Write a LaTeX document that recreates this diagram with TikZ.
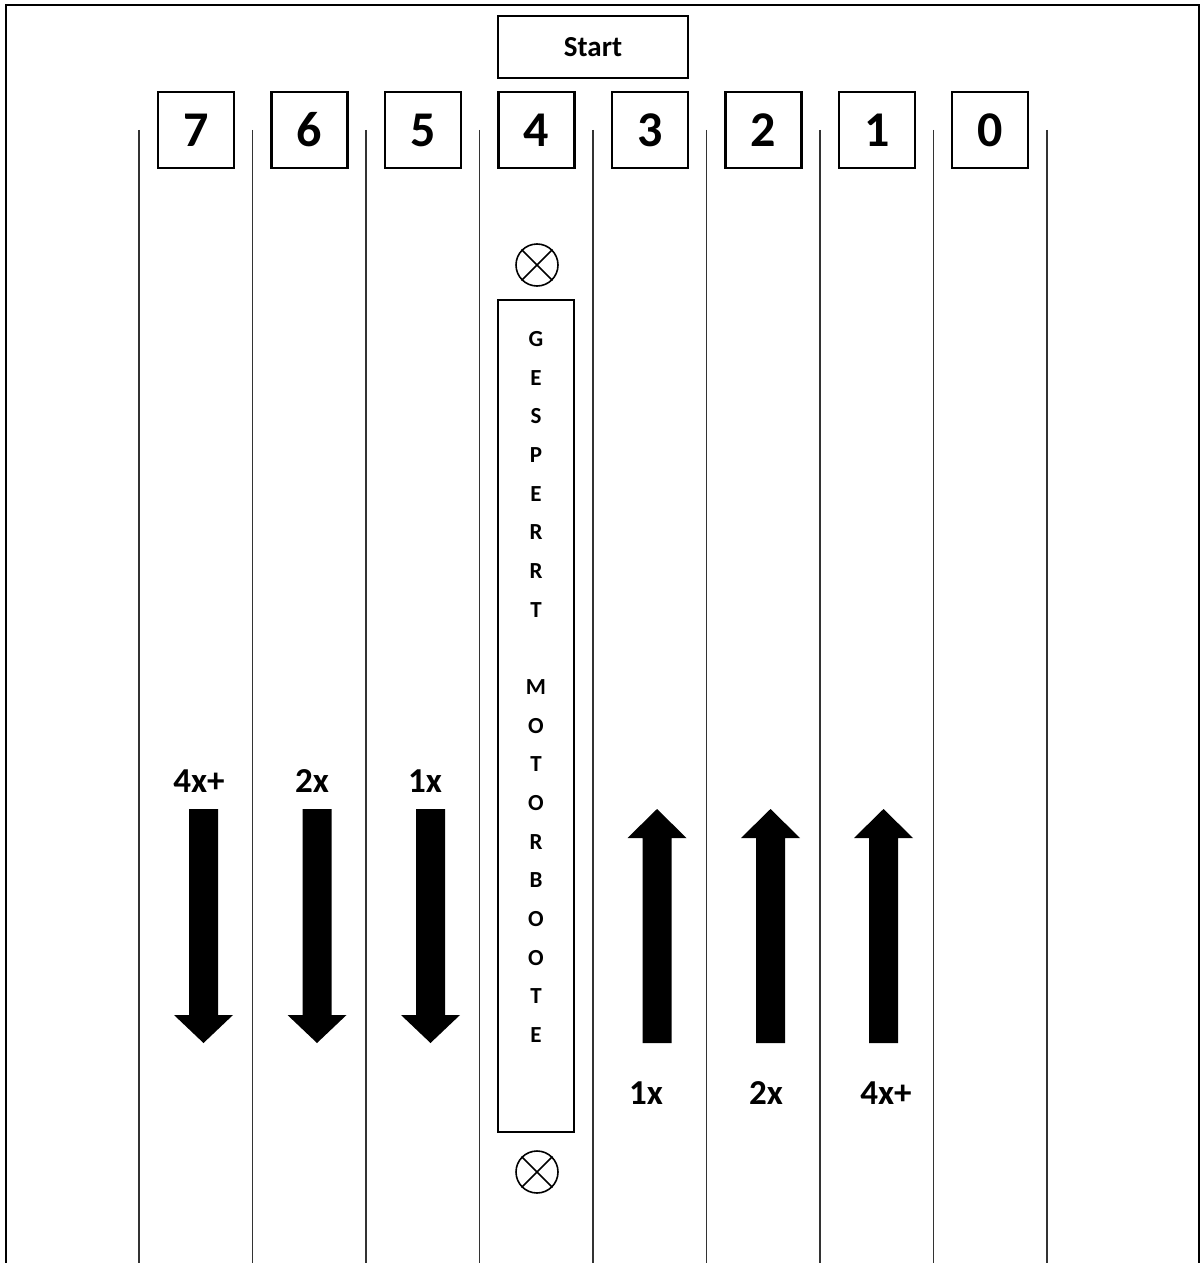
\documentclass[tikz,border=0pt]{standalone}
\usepackage{fontspec}
\setmainfont{Carlito}
\begin{document}
\begin{tikzpicture}[x=0.5pt,y=-0.5pt,
  numbox/.style={draw,line width=1.1pt,minimum width=38pt,minimum height=38pt,inner sep=0pt,font=\bfseries\fontsize{25}{25}\selectfont},
  startbox/.style={draw,line width=1.1pt,minimum width=95pt,minimum height=31pt,inner sep=0pt,font=\bfseries\fontsize{14.5}{15}\selectfont},
  lane/.style={line width=0.6pt,draw=black!80},
  lbl/.style={font=\bfseries\fontsize{17.5}{17.5}\selectfont,inner sep=0pt},
  letter/.style={font=\bfseries\fontsize{11.5}{11.5}\selectfont,inner sep=0pt},
  bigarrow/.style={fill=black,draw=none},
  xmark/.style={line width=0.8pt}]
\useasboundingbox (0,0) rectangle (1200,1263);
% frame
\draw[line width=1.3pt] (6,1280) -- (6,5) -- (1199,5) -- (1199,1280);
% lanes
\foreach \i in {0,...,8}{
  \draw[lane] ({139+113.5*\i},130) -- ({139+113.5*\i},1270);
}
% start
\node[startbox] (start) at (593,47) {Start};
% number boxes
\foreach \n/\x in {7/196,6/309.5,5/423,4/536.5,3/650,2/763.5,1/877,0/990}{
  \node[numbox] (b\n) at (\x,130) {\n};
}
% circles
\foreach \nm/\y in {ctop/265,cbot/1172}{
  \node[circle,draw,xmark,minimum size=21pt,inner sep=0pt] (\nm) at (537,\y) {};
  \draw[xmark] (\nm.north west) -- (\nm.south east);
  \draw[xmark] (\nm.north east) -- (\nm.south west);
}
% tall box
\node[draw,line width=1.1pt,minimum width=38pt,minimum height=416pt,inner sep=0pt] (tall) at (536,716) {};
\foreach \c [count=\k from 0] in {G,E,S,P,E,R,R,T,{},M,O,T,O,R,B,O,O,T,E}{
  \node[letter] (l\k) at (536,{339+38.67*\k}) {\c};
}
% down arrows
\foreach \cx in {203.5,317,430.5}{
  \fill[bigarrow] ({\cx-14.5},809) -- ({\cx+14.5},809) -- ({\cx+14.5},1015) -- ({\cx+29.5},1015)
     -- (\cx,1043) -- ({\cx-29.5},1015) -- ({\cx-14.5},1015) -- cycle;
}
\node[lbl] (dl1) at (199,781) {4x+};
\node[lbl] (dl2) at (312,781) {2x};
\node[lbl] (dl3) at (425,781) {1x};
% up arrows
\foreach \cx in {657,770.5,883.5}{
  \fill[bigarrow] ({\cx-14.5},1043) -- ({\cx+14.5},1043) -- ({\cx+14.5},838) -- ({\cx+29.5},838)
     -- (\cx,809) -- ({\cx-29.5},838) -- ({\cx-14.5},838) -- cycle;
}
\node[lbl] (ul1) at (646,1093) {1x};
\node[lbl] (ul2) at (766,1093) {2x};
\node[lbl] (ul3) at (886,1093) {4x+};
\end{tikzpicture}
\end{document}
